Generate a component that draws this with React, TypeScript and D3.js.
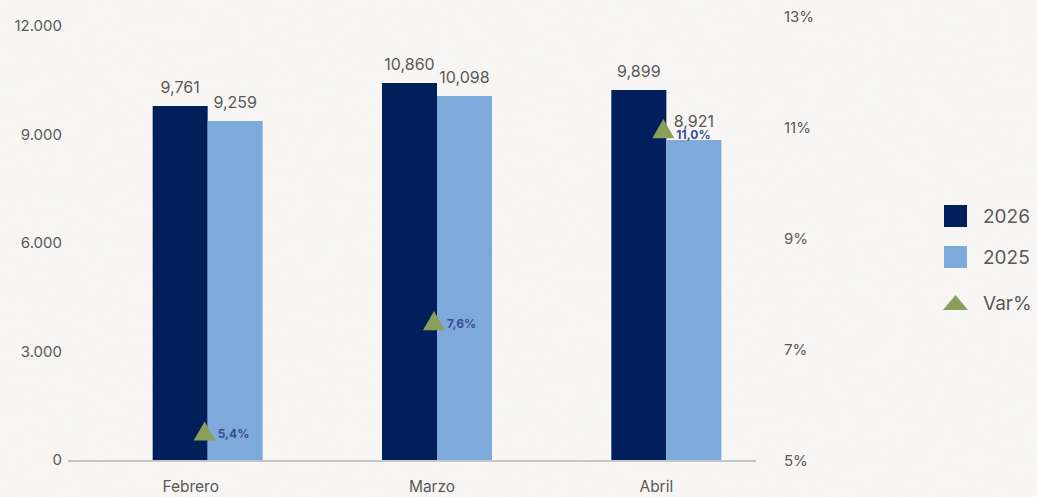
import React from "react";
import * as d3 from "d3";

const categories = ["Febrero", "Marzo", "Abril"];
const series = ["2026", "2025"];
// bar heights as drawn in the picture
const values2026 = [9788, 10424, 10230];
const values2025 = [9373, 10065, 8848];
// data labels as printed
const labels2026 = ["9,761", "10,860", "9,899"];
const labels2025 = ["9,259", "10,098", "8,921"];
// Var% marker positions and labels
const varValues = [5.5, 7.49, 10.95];
const varLabels = ["5,4%", "7,6%", "11,0%"];
const leftTicks = [0, 3000, 6000, 9000, 12000];
const leftTickLabels = ["0", "3.000", "6.000", "9.000", "12.000"];
const rightTicks = [5, 7, 9, 11, 13];
const rightTickLabels = ["5%", "7%", "9%", "11%", "13%"];

const W = 1037;
const H = 497;
const C2026 = "#001f5b";
const C2025 = "#7eaadb";
const CVAR = "#8aa05a";
const TXT = "#595959";
const FONT = "Inter, 'Open Sans', sans-serif";

export default function App() {
  const x = d3.scaleBand<string>().domain(categories).range([93, 781]);
  const y = d3.scaleLinear().domain([0, 12000]).range([460, 26]);
  const y2 = d3.scaleLinear().domain([5, 13]).range([461, 17]);
  const barW = 55;
  const vals = [values2026, values2025];
  const labs = [labels2026, labels2025];
  const colors = [C2026, C2025];
  const tri = d3.symbol().type(d3.symbolTriangle).size(210);

  return (
    <svg
      width={W}
      height={H}
      style={{ position: "absolute", left: 0, top: 0, display: "block" }}
      fontFamily={FONT}
    >
      <defs>
        <filter id="paper" x="0" y="0" width="100%" height="100%">
          <feTurbulence type="fractalNoise" baseFrequency="0.012 0.05" numOctaves="3" seed="3" result="n" />
          <feColorMatrix
            in="n"
            type="matrix"
            values="0 0 0 0 0.9  0 0 0 0 0.895  0 0 0 0 0.89  0 0 0 0.35 -0.05"
          />
        </filter>
      </defs>
      <rect width={W} height={H} fill="#f7f6f4" />
      <rect width={W} height={H} filter="url(#paper)" opacity={0.5} />

      {/* left axis labels */}
      {leftTicks.map((t, i) => (
        <text key={"l" + t} x={62} y={y(t)} dy="0.35em" textAnchor="end" fontSize={15} fill={TXT}>
          {leftTickLabels[i]}
        </text>
      ))}
      {/* right axis labels */}
      {rightTicks.map((t, i) => (
        <text key={"r" + t} x={784} y={y2(t)} dy="0.35em" textAnchor="start" fontSize={15} fill={TXT}>
          {rightTickLabels[i]}
        </text>
      ))}

      {/* bars */}
      {categories.map((c, ci) => {
        const cx = (x(c) as number) + x.bandwidth() / 2;
        return (
          <g key={c}>
            {series.map((s, si) => {
              const bx = cx - barW + si * barW;
              const v = vals[si][ci];
              return (
                <g key={s}>
                  <rect x={bx} y={y(v)} width={barW} height={y(0) - y(v)} fill={colors[si]} />
                  <text
                    x={bx + barW / 2}
                    y={y(v) - 13}
                    textAnchor="middle"
                    fontSize={16}
                    fill={TXT}
                  >
                    {labs[si][ci]}
                  </text>
                </g>
              );
            })}
          </g>
        );
      })}

      {/* baseline */}
      <line x1={68} x2={756} y1={y(0) + 1} y2={y(0) + 1} stroke="#c6c6c6" strokeWidth={2} />

      {/* category labels */}
      {categories.map((c, ci) => {
        const cx = (x(c) as number) + x.bandwidth() / 2;
        const off = [-17, -5, -10][ci];
        return (
          <text key={"c" + c} x={cx + off} y={487} dy="0.35em" textAnchor="middle" fontSize={15.5} fill={TXT}>
            {c}
          </text>
        );
      })}

      {/* Var% markers */}
      {categories.map((c, ci) => {
        const cx = (x(c) as number) + x.bandwidth() / 2 - 3;
        const py = y2(varValues[ci]);
        return (
          <g key={"v" + c}>
            <path d={tri() as string} transform={`translate(${cx},${py + 1})`} fill={CVAR} />
            <text
              x={cx + 13}
              y={py + (ci === 2 ? 4 : 1)}
              dy="0.35em"
              fontSize={12}
              fontWeight={700}
              fill="#3b4c94"
            >
              {varLabels[ci]}
            </text>
          </g>
        );
      })}

      {/* legend */}
      {series.map((s, i) => (
        <g key={"lg" + s}>
          <rect x={944} y={205 + i * 41} width={23} height={22} fill={colors[i]} />
          <text x={983} y={216 + i * 41} dy="0.35em" fontSize={19} fill={TXT}>
            {s}
          </text>
        </g>
      ))}
      <path d="M943,310 L955.5,295 L968,310 Z" fill={CVAR} />
      <text x={983} y={303} dy="0.35em" fontSize={19} fill={TXT}>
        Var%
      </text>
    </svg>
  );
}
